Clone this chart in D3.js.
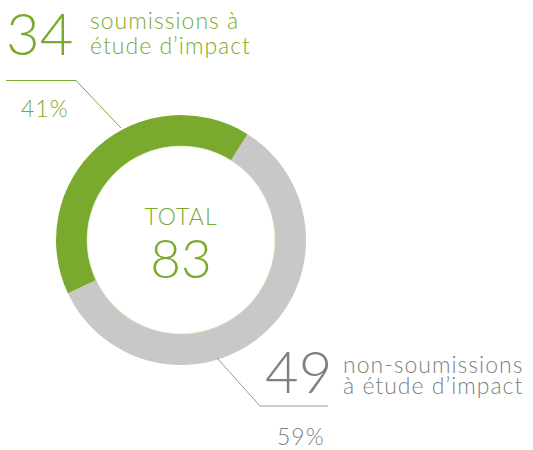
<!DOCTYPE html>
<html><head>
<meta charset="utf-8">
<script src="https://d3js.org/d3.v7.min.js"></script>
<style>
  body { margin: 0; background: #fff; }
  text { font-family: Lato, "Open Sans", sans-serif; font-weight: 300; }
  .small { font-size: 23px; letter-spacing: 1px; }
</style>
</head>
<body>
<svg id="chart" width="533" height="450"></svg>
<script>
// data
const labels = [["soumissions à", "étude d’impact"], ["non-soumissions", "à étude d’impact"]];
const counts = [34, 49];
const pctLabels = ["41%", "59%"];
const totalLabel = "TOTAL";
const colors = ["#7aaa2d", "#c8c8c8"];
const textColors = ["#7aaa2d", "#808080"];

let svg = d3.select("#chart");
let cx = 181, cy = 240;
let total = d3.sum(counts);

// donut
let pie = d3.pie().sort(null)
  .startAngle(-115.3 * Math.PI / 180)
  .endAngle((360 - 115.3) * Math.PI / 180);
let arc = d3.arc().innerRadius(94).outerRadius(125);

let g = svg.append("g").attr("transform", `translate(${cx},${cy})`);
g.selectAll("path")
  .data(pie(counts))
  .enter().append("path")
  .attr("d", arc)
  .style("fill", (d, i) => colors[i]);

g.append("circle")
  .attr("r", 94)
  .style("fill", "#fff")
  .style("stroke", "#cfe0a0")
  .style("stroke-width", 0.6);

// center text
g.append("text").attr("class", "small").attr("x", 0).attr("y", -15)
  .attr("text-anchor", "middle")
  .style("fill", textColors[0])
  .text(totalLabel);
g.append("text").attr("x", 0).attr("y", 38)
  .attr("text-anchor", "middle")
  .style("font-size", "53px").style("fill", textColors[0])
  .text(total);

// leader lines
svg.append("polyline")
  .attr("points", "6,80.5 76,80.5 121,128")
  .style("fill", "none").style("stroke", colors[0]).style("stroke-width", 1);
svg.append("polyline")
  .attr("points", "217,358 260,406 328,406")
  .style("fill", "none").style("stroke", "#9a9a9a").style("stroke-width", 1);

// top annotation
svg.append("text").attr("x", 6).attr("y", 55)
  .style("font-size", "58px").style("fill", textColors[0])
  .text(counts[0]);
labels[0].forEach(function(t, i) {
  svg.append("text").attr("class", "small").attr("x", 90).attr("y", 29 + i * 25)
    .style("fill", textColors[0])
    .text(t);
});
svg.append("text").attr("class", "small").attr("x", 21).attr("y", 117)
  .style("fill", textColors[0])
  .text(pctLabels[0]);

// bottom annotation
svg.append("text").attr("x", 265).attr("y", 393)
  .style("font-size", "58px").style("fill", textColors[1])
  .text(counts[1]);
labels[1].forEach(function(t, i) {
  svg.append("text").attr("class", "small").attr("x", 343).attr("y", 373 + i * 21)
    .style("fill", textColors[1])
    .text(t);
});
svg.append("text").attr("class", "small").attr("x", 277).attr("y", 445)
  .style("fill", textColors[1])
  .text(pctLabels[1]);
</script>
</body>
</html>
